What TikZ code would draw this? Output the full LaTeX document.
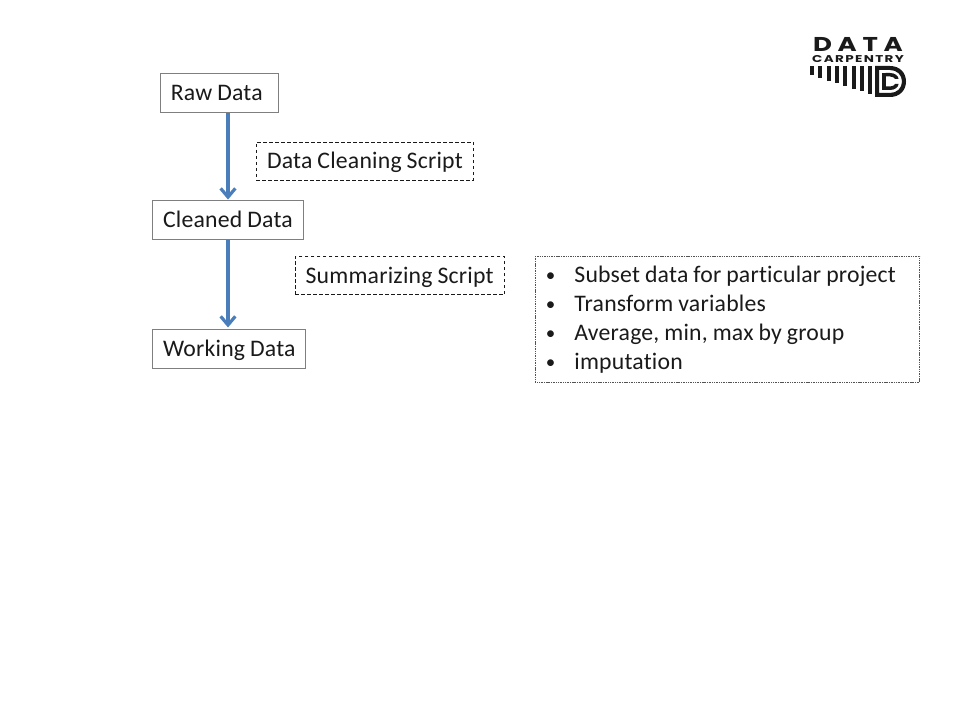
\documentclass[tikz,border=0pt]{standalone}
\usepackage{graphicx}
\usepackage{fontspec}
\setmainfont[Ligatures=NoCommon,LetterSpace=0.9]{Carlito}
\newfontfamily\logofont[LetterSpace=22]{Poppins Bold}
\newfontfamily\logosmall[LetterSpace=10]{Poppins Bold}
\usetikzlibrary{arrows.meta}
\definecolor{flowblue}{HTML}{4A7EBB}
\definecolor{edgegray}{HTML}{7F7F7F}
\definecolor{inkblack}{HTML}{1A1A1A}
\newcommand{\tightspace}[1]{\begingroup\setlength{\spaceskip}{.21em}\mbox{#1}\endgroup}
\tikzset{
  txt/.style={font=\fontsize{17.8pt}{21.8pt}\selectfont, text=inkblack, align=left, inner ysep=0pt, inner xsep=7.9pt},
  oneline/.style={text height=15pt, text depth=3pt},
  solidbox/.style={txt, oneline, draw=edgegray, line width=.8pt},
  dashbox/.style={txt, oneline, draw=inkblack, line width=.6pt, dash pattern=on 2.6pt off 1.9pt},
  dotbox/.style={txt, draw=inkblack!75, line width=.7pt, dash pattern=on .8pt off .5pt},
  flow/.style={draw=flowblue, line width=2.4pt, -{Straight Barb[length=6.5pt,width=11pt,line width=2.4pt]}},
  logotxt/.style={inner sep=0pt, text=inkblack},
  logobar/.style={fill=inkblack, draw=none}
}
\newcommand{\itemrow}[1]{\makebox[21.4pt][l]{\raisebox{.8pt}{\scalebox{.8}{\textbullet}}}\tightspace{#1}}
\begin{document}
\begin{tikzpicture}[x=.75pt,y=-.75pt]
\useasboundingbox (0,0) rectangle (960,720);
\fill[white] (0,0) rectangle (960,720);
\node[solidbox, minimum height=29.2pt, text width=72.7pt] (raw) at (219.3,92.8) {\tightspace{Raw Data}};
\node[solidbox, minimum height=29.6pt, text width=97.4pt] (clean) at (228,219.8) {\tightspace{Cleaned Data}};
\node[solidbox, minimum height=29.2pt, text width=98.9pt] (work) at (229,348.8) {\tightspace{Working Data}};
\node[dashbox, minimum height=28.5pt, text width=147pt] (clscript) at (365,161) {\tightspace{Data Cleaning Script}};
\node[dashbox, minimum height=28.7pt, text width=141.3pt] (sumscript) at (399.8,275.6) {\tightspace{Summarizing Script}};
\node[dotbox, minimum height=94.5pt, text width=272.6pt] (list) at (727.6,319.5) {%
  \itemrow{Subset data for particular project}\\
  \itemrow{Transform variables}\\
  \itemrow{Average, min, max by group}\\
  \itemrow{imputation}};
\draw[flow] (raw.south -| clean.north) -- (clean.north);
\draw[flow] (clean.south) -- ([yshift=1pt]work.north -| clean.south);
% logo
\node[logotxt, anchor=center, font=\logofont\fontsize{15pt}{15pt}\selectfont] (logodata) at (858,44) {\scalebox{1.3}[1]{DATA}};
\node[logotxt, anchor=center, font=\logosmall\fontsize{7.4pt}{8pt}\selectfont] (logocarp) at (858,58.7) {\scalebox{1.37}[1]{CARPENTRY}};
\foreach \x/\b in {810/75,818.3/78.3,826.6/81,834.9/83.3,843.2/86,851.5/88.7,859.6/91.3,867.8/94}
  \fill[logobar] (\x,65.7) rectangle (\x+4,\b);
\fill[logobar, even odd rule]
  (875,66) -- (890,66) .. controls (900,66) and (906,73) .. (906,81.5) .. controls (906,90) and (900,97) .. (890,97) -- (875,97) -- cycle
  (879,70) -- (879,93) -- (890,93) .. controls (897,93) and (902,88) .. (902,81.5) .. controls (902,75) and (897,70) .. (890,70) -- cycle;
\fill[logobar] (882,73) -- (885.5,73) -- (885.5,90) -- (882,90) -- cycle;
\fill[logobar]
  (885.5,73) -- (890,73) .. controls (895,73) and (898.5,76) .. (898.5,79) -- (895,79) .. controls (895,78) and (893,76.5) .. (890,76.5) -- (885.5,76.5) -- cycle;
\fill[logobar]
  (885.5,90) -- (890,90) .. controls (895,90) and (898.5,87) .. (898.5,84) -- (895,84) .. controls (895,85) and (893,86.5) .. (890,86.5) -- (885.5,86.5) -- cycle;
\end{tikzpicture}
\end{document}
